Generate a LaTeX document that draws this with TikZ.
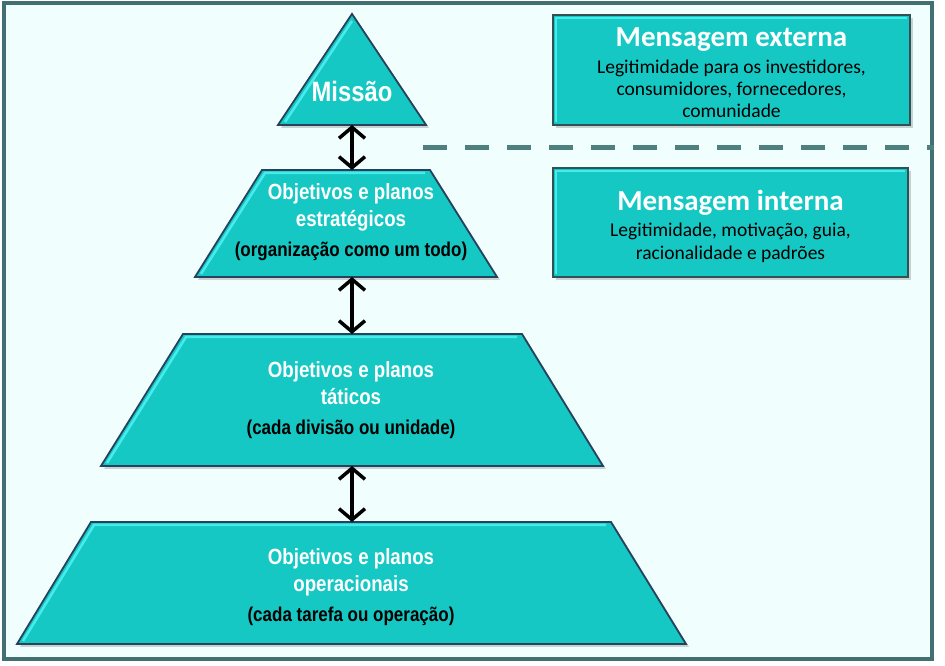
\documentclass[tikz,border=0pt]{standalone}
\usepackage{fontspec}
\setmainfont{Carlito}
\newfontfamily\narrowfont[FakeStretch=0.85]{Liberation Sans}
\usetikzlibrary{arrows.meta,shadows}

\definecolor{turq}{RGB}{22,200,196}
\definecolor{tierline}{RGB}{38,66,92}
\definecolor{boxline}{RGB}{48,82,84}
\definecolor{framefill}{RGB}{240,254,254}
\definecolor{frameline}{RGB}{66,112,114}
\definecolor{dashline}{RGB}{78,128,128}
\definecolor{bevel}{RGB}{70,236,236}

\tikzset{
  tier/.style={fill=turq, draw=tierline, line width=1.8pt, line join=miter,
    drop shadow={opacity=.35, shadow xshift=3pt, shadow yshift=-3pt}},
  shine/.style={bevel, line width=2.5pt},
  tiertext/.style={align=center, text=white, inner sep=0pt,
    font=\narrowfont\bfseries\fontsize{22}{27}\selectfont},
  msgbox/.style={rectangle, fill=turq, draw=boxline, line width=1.8pt,
    inner sep=0pt, outer sep=0pt,
    drop shadow={opacity=.35, shadow xshift=3pt, shadow yshift=-3pt}},
  msgtext/.style={align=center, inner sep=0pt, font=\fontsize{19.5}{22}\selectfont},
  updown/.style={{Straight Barb[length=11pt,width=26pt]}-{Straight Barb[length=11pt,width=26pt]},
    line width=3.5pt}
}

\begin{document}
\begin{tikzpicture}[x=1pt,y=1pt]
\useasboundingbox (0,0) rectangle (945,666);

%-------------------------------------------- Frame
\draw[frameline, fill=framefill, line width=4pt] (4,7) rectangle (932,663);

%-------------------------------------------- Pyramid
\draw[tier] (278,541) -- (352,652) -- (426,541) -- cycle;           % Missao
\draw[tier] (195,389) -- (262,496) -- (430,496) -- (497,389) -- cycle; % Strategic
\draw[tier] (101,200) -- (183,332) -- (522,332) -- (603,200) -- cycle; % Tactical
\draw[tier] (17,22) -- (91,144) -- (611,144) -- (686,22) -- cycle;     % Operational

% light top edges
\draw[shine] (285,544) -- (352,645);
\draw[shine] (201,392) -- (265,493) -- (425,493);
\draw[shine] (107,203) -- (186,329) -- (517,329);
\draw[shine] (23,25) -- (94,141) -- (606,141);

% Anchor points for the arrows
\coordinate (missao-b) at (352,541);
\coordinate (estrat-t) at (352,496);
\coordinate (estrat-b) at (352,389);
\coordinate (tatic-t) at (352,332);
\coordinate (tatic-b) at (352,200);
\coordinate (operac-t) at (352,144);

% Texts
\node[tiertext, font=\narrowfont\bfseries\fontsize{28}{28}\selectfont] (missao) at (352,574) {Missão};
\node[tiertext] (estrat) at (351,444) {Objetivos e planos\\ estratégicos\\[3pt]
  {\fontsize{20}{27}\selectfont\color{black}(organização como um todo)}};
\node[tiertext] (tatic) at (351,266) {Objetivos e planos\\ táticos\\[3pt]
  {\fontsize{20}{27}\selectfont\color{black}(cada divisão ou unidade)}};
\node[tiertext] (operac) at (351,79) {Objetivos e planos\\ operacionais\\[3pt]
  {\fontsize{20}{27}\selectfont\color{black}(cada tarefa ou operação)}};

% Double arrows
\draw[updown] (missao-b) -- (estrat-t);
\draw[updown] (estrat-b) -- (tatic-t);
\draw[updown] (tatic-b) -- (operac-t);

%-------------------------------------------- Dashed divider
\coordinate (cut-a) at (423,518);
\coordinate (cut-b) at (934,518);
\draw[dashline, line width=5pt, dash pattern=on 24pt off 18pt] (cut-a) -- (cut-b);

%-------------------------------------------- Messages
\node[msgbox, minimum width=357pt, minimum height=110pt] (externa) at (731.5,596) {};
\draw[shine] (556,544) -- (556,648) -- (907,648);
\node[msgtext] (externa-txt) at ([yshift=-3pt]externa.center)
  {{\color{white}\bfseries\fontsize{29}{30}\selectfont Mensagem externa}\\[5pt]
   Legitimidade para os investidores,\\ consumidores, fornecedores,\\ comunidade};

\node[msgbox, minimum width=355pt, minimum height=109pt] (interna) at (730.5,443.5) {};
\draw[shine] (556,392) -- (556,495) -- (905,495);
\node[msgtext, font=\fontsize{19.5}{23}\selectfont] (interna-txt) at ([yshift=-4pt]interna.center)
  {{\color{white}\bfseries\fontsize{29}{30}\selectfont Mensagem interna}\\[3pt]
   Legitimidade, motivação, guia,\\ racionalidade e padrões};

\end{tikzpicture}
\end{document}
